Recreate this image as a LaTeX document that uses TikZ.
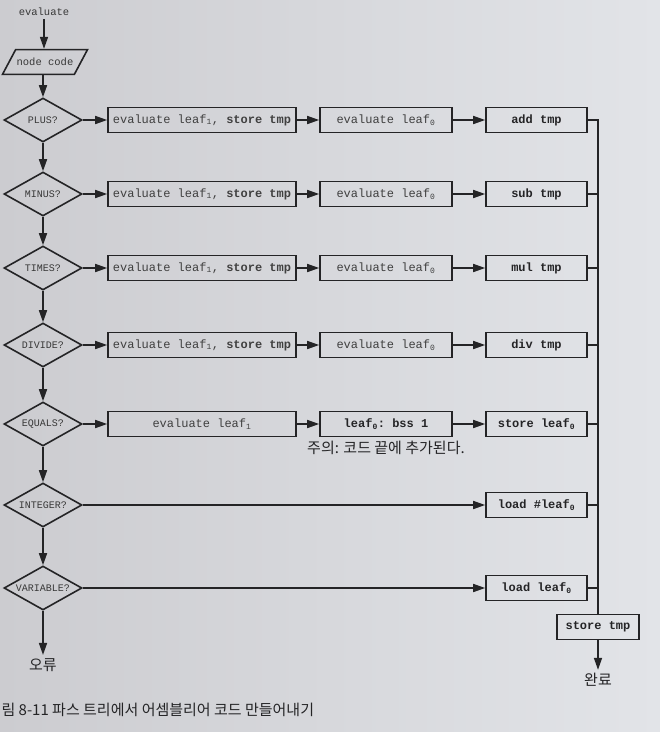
\documentclass[tikz,border=0pt]{standalone}
\usepackage{fontspec}
\setmonofont{Liberation Mono}
\newfontfamily\kr{Noto Sans CJK KR}
\usetikzlibrary{shapes.geometric,arrows.meta,positioning}
\definecolor{paperL}{RGB}{204,204,208}
\definecolor{paperR}{RGB}{226,228,232}
\definecolor{ink}{RGB}{36,36,38}
\newcommand\lf[1]{leaf\textsubscript{#1}}

\begin{document}
\begin{tikzpicture}
    [ x=1pt, y=-1pt
    , every node/.style={font=\ttfamily\fontsize{12}{14}\selectfont, text=ink}
    , op/.style={draw=ink, line width=1.6pt, rectangle, minimum height=25pt, inner sep=3pt}
    , wide/.style={minimum width=188pt}
    , mid/.style={minimum width=132pt}
    , last/.style={minimum width=101pt}
    , light/.style={text=black!75}
    , test/.style={draw=ink, line width=1.6pt, diamond, aspect=2.2, minimum width=78pt,
        minimum height=44pt, inner sep=0pt, text=black!78, font=\ttfamily\fontsize{10}{12}\selectfont}
    , io/.style={draw=ink, line width=1.6pt, trapezium, trapezium left angle=62,
        trapezium right angle=118, inner xsep=1pt, inner ysep=8.5pt,
        text=black!78, font=\ttfamily\fontsize{10.5}{12}\selectfont}
    , hangul/.style={font=\kr\fontsize{15}{17}\selectfont}
    , go/.style={draw=ink, line width=1.6pt, -{Triangle[length=12pt,width=8pt]}}
    , wire/.style={draw=ink, line width=1.6pt}
    ]
\shade[left color=paperL, right color=paperR] (0,0) rectangle (660,732);
\useasboundingbox (0,0) rectangle (660,732);
% left column: the tests
\node[text=black!78, font=\ttfamily\fontsize{10.5}{12}\selectfont] (start) at (44,12) {evaluate};
\node[io] (code) at (45,62) {node code};
\node[test] (plus)  at (43,120) {PLUS?};
\node[test] (minus) at (43,194) {MINUS?};
\node[test] (times) at (43,268) {TIMES?};
\node[test] (divi)  at (43,345) {DIVIDE?};
\node[test] (equ)   at (43,424) {EQUALS?};
\node[test] (intg)  at (43,505) {INTEGER?};
\node[test] (vari)  at (43,588) {VARIABLE?};
\node[hangul] (err) at (43,665) {오류};
% rows
\node[op,wide,light] (lfplus)  at (202,120) {evaluate \lf1, \textbf{store tmp}};
\node[op,wide,light] (lfminus) at (202,194) {evaluate \lf1, \textbf{store tmp}};
\node[op,wide,light] (lftimes) at (202,268) {evaluate \lf1, \textbf{store tmp}};
\node[op,wide,light] (lfdivi)  at (202,345) {evaluate \lf1, \textbf{store tmp}};
\node[op,wide,light] (lfequ)   at (202,424) {evaluate \lf1};
\node[op,mid,light] (zplus)  at (386,120) {evaluate \lf0};
\node[op,mid,light] (zminus) at (386,194) {evaluate \lf0};
\node[op,mid,light] (ztimes) at (386,268) {evaluate \lf0};
\node[op,mid,light] (zdivi)  at (386,345) {evaluate \lf0};
\node[op,mid] (bss) at (386,424) {\textbf{\lf0: bss 1}};
\node[hangul, below=0pt of bss] (note) {주의: 코드 끝에 추가된다.};
\node[op,last] (add)  at (536.5,120) {\textbf{add tmp}};
\node[op,last] (sub)  at (536.5,194) {\textbf{sub tmp}};
\node[op,last] (mul)  at (536.5,268) {\textbf{mul tmp}};
\node[op,last] (dvd)  at (536.5,345) {\textbf{div tmp}};
\node[op,last] (stleaf) at (536.5,424) {\textbf{store \lf0}};
\node[op,last] (ldimm)  at (536.5,505) {\textbf{load \#\lf0}};
\node[op,last] (ldvar)  at (536.5,588) {\textbf{load \lf0}};
\node[op,minimum width=82pt] (sttmp) at (598,627) {\textbf{store tmp}};
\node[hangul] (done) at (598,680) {완료};
% down the tests
\draw[go] (start) -- (start |- code.north);
\draw[go] (code.south -| plus) -- (plus);
\draw[go] (plus) -- (minus);
\draw[go] (minus) -- (times);
\draw[go] (times) -- (divi);
\draw[go] (divi) -- (equ);
\draw[go] (equ) -- (intg);
\draw[go] (intg) -- (vari);
\draw[go] (vari) -- (err);
% across
\draw[go] (plus) -- (lfplus);   \draw[go] (lfplus) -- (zplus);   \draw[go] (zplus) -- (add);
\draw[go] (minus) -- (lfminus); \draw[go] (lfminus) -- (zminus); \draw[go] (zminus) -- (sub);
\draw[go] (times) -- (lftimes); \draw[go] (lftimes) -- (ztimes); \draw[go] (ztimes) -- (mul);
\draw[go] (divi) -- (lfdivi);   \draw[go] (lfdivi) -- (zdivi);   \draw[go] (zdivi) -- (dvd);
\draw[go] (equ) -- (lfequ);     \draw[go] (lfequ) -- (bss);      \draw[go] (bss) -- (stleaf);
\draw[go] (intg) -- (ldimm);
\draw[go] (vari) -- (ldvar);
% collect on the right
\draw[wire] (add.east) -| (sttmp.north);
\draw[wire] (sub.east) -- (sub.east -| sttmp.north);
\draw[wire] (mul.east) -- (mul.east -| sttmp.north);
\draw[wire] (dvd.east) -- (dvd.east -| sttmp.north);
\draw[wire] (stleaf.east) -- (stleaf.east -| sttmp.north);
\draw[wire] (ldimm.east) -- (ldimm.east -| sttmp.north);
\draw[wire] (ldvar.east) -- (ldvar.east -| sttmp.north);
\draw[go] (sttmp) -- (done);
\node[hangul, anchor=west] (cap) at (-2,710) {림 8-11 파스 트리에서 어셈블리어 코드 만들어내기};
\end{tikzpicture}
\end{document}
